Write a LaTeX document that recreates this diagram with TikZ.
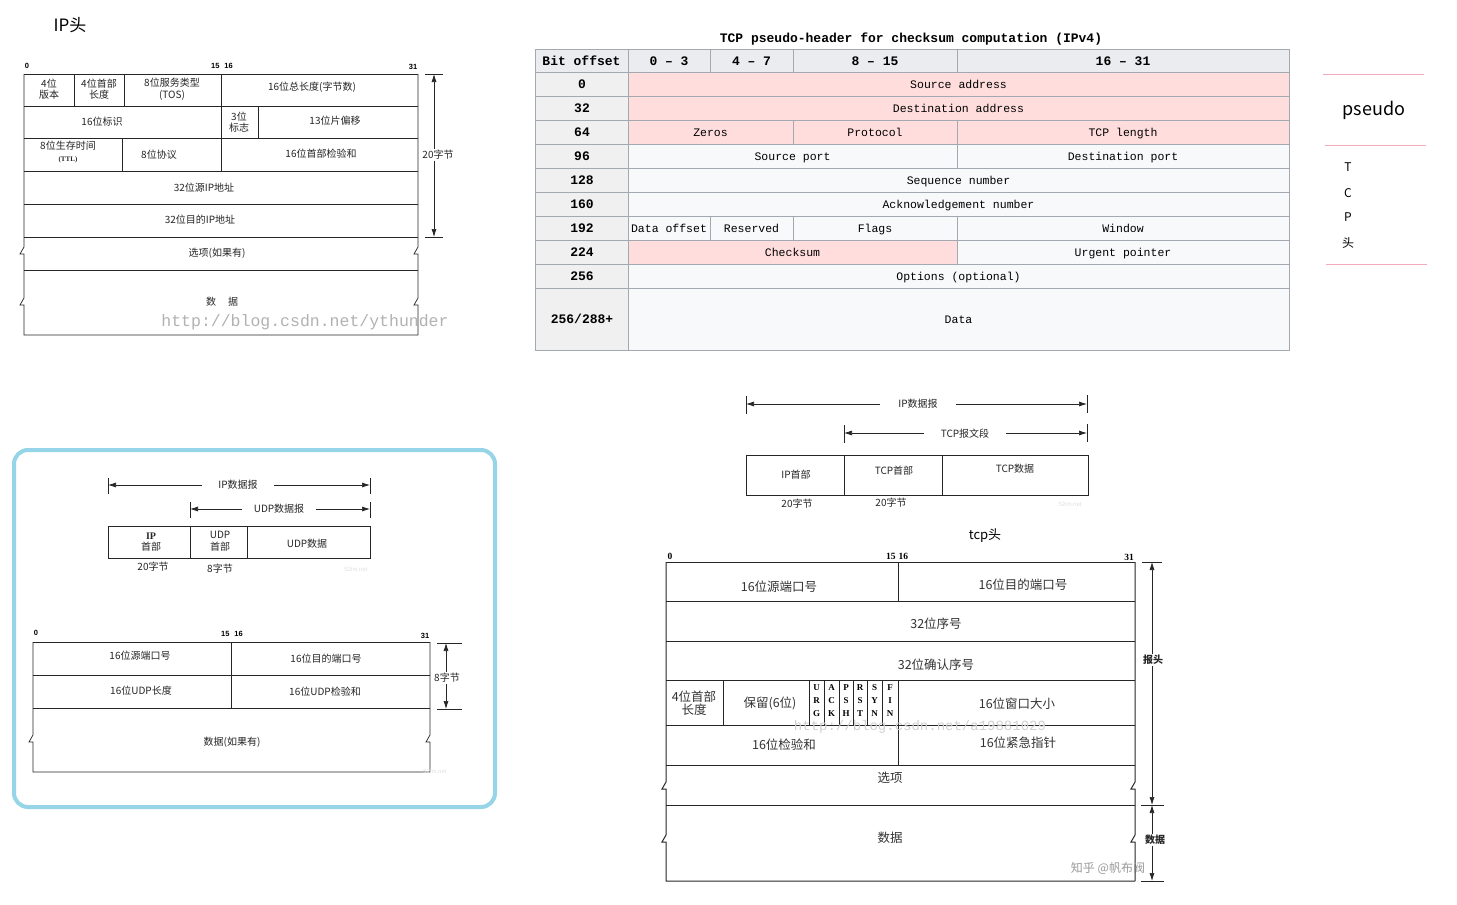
\documentclass[tikz,border=0pt]{standalone}
\usepackage{fontspec}
\setmainfont{Liberation Serif}
\setsansfont{Liberation Sans}
\setmonofont{Liberation Mono}
\newfontfamily\cjk{Noto Sans CJK SC}
\usetikzlibrary{arrows.meta}

\definecolor{tgray}{HTML}{A2A9B1}
\definecolor{thead}{HTML}{EAECF0}
\definecolor{tfirst}{HTML}{F0F0F0}
\definecolor{tpink}{HTML}{FFDDDD}
\definecolor{tcellbg}{HTML}{F8F9FA}
\definecolor{pinkline}{HTML}{F5A9BC}
\definecolor{udpblue}{HTML}{96D5E8}

\tikzset{
    hline/.style={line width=0.7pt, black!85},
    tline/.style={line width=1pt, black!85},
    brk/.style 2 args={insert path={-- (#1,#2-5) -- (#1-4,#2+2) -- (#1,#2+2)}},
    iptxt/.style={font=\cjk\fontsize{10}{11.5}\selectfont, align=center, inner sep=1pt, text=black!85},
    tcptxt/.style={font=\cjk\fontsize{12.5}{13.5}\selectfont, align=center, inner sep=1pt, text=black!80},
    gaplbl/.style={iptxt, inner xsep=16pt},
    bitno/.style={font=\sffamily\bfseries\fontsize{7.5}{8}\selectfont, inner sep=0pt},
    tcpbit/.style={font=\rmfamily\bfseries\fontsize{9.5}{10}\selectfont, inner sep=0pt},
    flagtxt/.style={font=\rmfamily\bfseries\fontsize{9}{13}\selectfont, align=center, inner sep=0pt},
    dim/.style={line width=0.7pt, black!85, -{Latex[length=8pt,width=5pt]}},
    tick/.style={line width=0.7pt, black!85},
    ttl/.style={font=\cjk\fontsize{17}{20}\selectfont},
    tfont/.style={font=\ttfamily\fontsize{11.5}{13}\selectfont, inner sep=0pt, text height=9pt, text depth=1pt},
    tbold/.style={font=\ttfamily\bfseries\fontsize{13}{14}\selectfont, inner sep=0pt, text height=10pt, text depth=1pt},
    cellbox/.style={draw=tgray, line width=0.8pt},
    wmark/.style={font=\ttfamily, text=black!30, inner sep=0pt},
    faint/.style={font=\sffamily\fontsize{6}{7}\selectfont, text=black!12, inner sep=0pt}
}

\begin{document}
\begin{tikzpicture}[x=1pt, y=-1pt]
    \useasboundingbox[fill=white] (0,0) rectangle (1457,905);

    % IP header
    \node[ttl] (ipTitle) at (70,25) {IP头};
    \node[bitno] (ipB0) at (27,66) {0};
    \node[bitno] (ipB15) at (222,66) {15\hspace{5pt}16};
    \node[bitno] (ipB31) at (413,67) {31};
    \draw[hline] (24,74) -- (418,74);
    \draw[hline] (24,74) [brk={24}{252}] [brk={24}{303}] -- (24,335) -- (418,335);
    \draw[hline] (418,74) [brk={418}{252}] [brk={418}{303}] -- (418,335);
    \foreach \y in {106,138,171,204,237,270}
        \draw[hline] (24,\y) -- (418,\y);
    \draw[hline] (74,74) -- (74,106) (124,74) -- (124,106) (221,74) -- (221,171)
        (258,106) -- (258,138) (122,138) -- (122,171);
    \node[iptxt] (ipVer) at (49,89) {4位\\版本};
    \node[iptxt] (ipHl) at (99,89) {4位首部\\长度};
    \node[iptxt] (ipTos) at (172,89) {8位服务类型\\(TOS)};
    \node[iptxt] (ipLen) at (312,87) {16位总长度(字节数)};
    \node[iptxt] (ipId) at (102,122) {16位标识};
    \node[iptxt] (ipFlag) at (239,122) {3位\\标志};
    \node[iptxt] (ipOff) at (335,121) {13位片偏移};
    \node[iptxt] (ipTtl) at (68,152) {8位生存时间\\{\rmfamily\bfseries\fontsize{7}{8}\selectfont (TTL)}};
    \node[iptxt] (ipProto) at (159,155) {8位协议};
    \node[iptxt] (ipSum) at (321,154) {16位首部检验和};
    \node[iptxt] (ipSrc) at (204,188) {32位源IP地址};
    \node[iptxt] (ipDst) at (200,220) {32位目的IP地址};
    \node[iptxt] (ipOpt) at (217,253) {选项(如果有)};
    \node[iptxt] (ipData) at (222,302) {数\hspace{12pt}据};
    \node[iptxt] (ip20) at (438,155) {20字节};
    \coordinate (ipT) at (434,74);
    \coordinate (ipB) at (434,237);
    \draw[tick] (425,74) -- (443,74) (425,237) -- (443,237);
    \draw[dim] (ipT |- ip20.north) -- (ipT);
    \draw[dim] (ipT |- ip20.south) -- (ipB);
    \node[wmark, font=\ttfamily\fontsize{16.5}{18}\selectfont] (ipWm) at (305,322) {http://blog.csdn.net/ythunder};

    % TCP pseudo-header table
    \node[tbold] (phTitle) at (911,38) {TCP pseudo-header for checksum computation (IPv4)};
    \foreach \xa/\xb/\t [count=\i] in {535/628/Bit offset, 628/710/0 – 3, 710/793/4 – 7, 793/957/8 – 15, 957/1289/16 – 31}
    {
        \filldraw[cellbox, fill=thead] (\xa,49) rectangle (\xb,72);
        \node[tbold] (phHead\i) at ({(\xa+\xb)/2},61) {\t};
    }
    \foreach \ya/\yb/\t [count=\i] in {72/96/0, 96/120/32, 120/144/64, 144/168/96, 168/192/128,
        192/216/160, 216/240/192, 240/264/224, 264/288/256}
    {
        \filldraw[cellbox, fill=tfirst] (535,\ya) rectangle (628,\yb);
        \node[tbold] (phOff\i) at (582,{(\ya+\yb)/2}) {\t};
    }
    \filldraw[cellbox, fill=tfirst] (535,288) rectangle (628,350);
    \node[tbold] (phOff10) at (582,319) {256/288+};
    \foreach \xa/\ya/\xb/\yb/\f/\t [count=\i] in {
        628/72/1289/96/tpink/Source address,
        628/96/1289/120/tpink/Destination address,
        628/120/793/144/tpink/Zeros,
        793/120/957/144/tpink/Protocol,
        957/120/1289/144/tpink/TCP length,
        628/144/957/168/tcellbg/Source port,
        957/144/1289/168/tcellbg/Destination port,
        628/168/1289/192/tcellbg/Sequence number,
        628/192/1289/216/tcellbg/Acknowledgement number,
        628/216/710/240/tcellbg/Data offset,
        710/216/793/240/tcellbg/Reserved,
        793/216/957/240/tcellbg/Flags,
        957/216/1289/240/tcellbg/Window,
        628/240/957/264/tpink/Checksum,
        957/240/1289/264/tcellbg/Urgent pointer,
        628/264/1289/288/tcellbg/Options (optional),
        628/288/1289/350/tcellbg/Data}
    {
        \filldraw[cellbox, fill=\f] (\xa,\ya) rectangle (\xb,\yb);
        \node[tfont] (phCell\i) at ({(\xa+\xb)/2},{(\ya+\yb)/2}) {\t};
    }

    % pseudo / TCP note
    \draw[pinkline, line width=0.8pt] (1323,74) -- (1424,74) (1325,145) -- (1426,145) (1326,264) -- (1427,264);
    \node[font=\cjk\fontsize{18}{20}\selectfont] (psd) at (1374,110) {pseudo};
    \foreach \t/\y [count=\i] in {T/167, C/193, P/217, 头/243}
        \node[font=\cjk\fontsize{12}{14}\selectfont] (psd\i) at (1348,\y) {\t};

    % UDP
    \draw[udpblue, line width=4pt, rounded corners=14pt] (14,450) rectangle (495,807);
    \node[gaplbl] (uIp) at (238,485) {IP数据报};
    \node[gaplbl, inner xsep=12pt] (uUdp) at (279,509) {UDP数据报};
    \coordinate (uIpL) at (108,485);
    \coordinate (uIpR) at (370,485);
    \coordinate (uUdpL) at (190,509);
    \coordinate (uUdpR) at (370,509);
    \draw[tick] (108,478) -- (108,494) (370,478) -- (370,494) (190,502) -- (190,518) (370,502) -- (370,518);
    \draw[dim] (uIp.west) -- (uIpL);
    \draw[dim] (uIp.east) -- (uIpR);
    \draw[dim] (uUdp.west) -- (uUdpL);
    \draw[dim] (uUdp.east) -- (uUdpR);
    \draw[hline] (108,526) rectangle (370,558) (190,526) -- (190,558) (247,526) -- (247,558);
    \node[iptxt] (uIpHd) at (151,542) {{\rmfamily\bfseries IP}\\首部};
    \node[iptxt] (uUdpHd) at (220,541) {UDP\\首部};
    \node[iptxt] (uUdpData) at (307,544) {UDP数据};
    \node[iptxt] (u20) at (153,567) {20字节};
    \node[iptxt] (u8) at (220,569) {8字节};
    \node[faint] (uWm1) at (356,569) {52im.net};

    \node[bitno] (uB0) at (36,633) {0};
    \node[bitno] (uB15) at (232,634) {15\hspace{5pt}16};
    \node[bitno] (uB31) at (425,636) {31};
    \draw[hline] (33,642) -- (430,642);
    \draw[hline] (33,642) [brk={33}{740}] -- (33,772) -- (430,772);
    \draw[hline] (430,642) [brk={430}{740}] -- (430,772);
    \draw[hline] (33,675) -- (430,675) (33,708) -- (430,708) (231,642) -- (231,708);
    \node[iptxt] (uSrc) at (140,656) {16位源端口号};
    \node[iptxt] (uDst) at (326,659) {16位目的端口号};
    \node[iptxt] (uLen) at (141,691) {16位UDP长度};
    \node[iptxt] (uSum) at (325,692) {16位UDP检验和};
    \node[iptxt] (uData) at (232,742) {数据(如果有)};
    \node[iptxt] (u8b) at (447,678) {8字节};
    \coordinate (uT) at (446,643);
    \coordinate (uB) at (446,709);
    \draw[tick] (437,643) -- (462,643) (437,709) -- (462,709);
    \draw[dim] (uT |- u8b.north) -- (uT);
    \draw[dim] (uT |- u8b.south) -- (uB);
    \node[faint] (uWm2) at (435,771) {52im.net};

    % TCP segment
    \node[gaplbl, inner xsep=18pt] (sIp) at (918,404) {IP数据报};
    \node[gaplbl, inner xsep=17pt] (sTcp) at (965,434) {TCP报文段};
    \coordinate (sIpL) at (746,404);
    \coordinate (sIpR) at (1087,404);
    \coordinate (sTcpL) at (844,433);
    \coordinate (sTcpR) at (1087,433);
    \draw[tick] (746,396) -- (746,414) (1087,395) -- (1087,413) (844,425) -- (844,443) (1087,424) -- (1087,442);
    \draw[dim] (sIp.west) -- (sIpL);
    \draw[dim] (sIp.east) -- (sIpR);
    \draw[dim] (sTcp.west |- sTcpL) -- (sTcpL);
    \draw[dim] (sTcp.east |- sTcpR) -- (sTcpR);
    \draw[hline] (746,455) rectangle (1088,495) (844,455) -- (844,495) (942,455) -- (942,495);
    \node[iptxt] (sIpHd) at (796,475) {IP首部};
    \node[iptxt] (sTcpHd) at (894,471) {TCP首部};
    \node[iptxt] (sTcpData) at (1015,469) {TCP数据};
    \node[iptxt] (s20a) at (797,504) {20字节};
    \node[iptxt] (s20b) at (891,503) {20字节};
    \node[faint] (sWm) at (1070,504) {52im.net};

    % TCP header
    \node[font=\cjk\fontsize{13}{15}\selectfont] (tTitle) at (985,536) {tcp头};
    \node[tcpbit] (tB0) at (670,556) {0};
    \node[tcpbit] (tB15) at (897,556) {15\hspace{3pt}16};
    \node[tcpbit] (tB31) at (1129,557) {31};
    \draw[tline] (666,562) -- (1135,562);
    \draw[tline] (666,562) [brk={666}{787}] [brk={666}{840}] -- (666,881) -- (1135,881);
    \draw[tline] (1135,562) [brk={1135}{787}] [brk={1135}{840}] -- (1135,881);
    \foreach \y in {601,641,680,725,765,805}
        \draw[tline] (666,\y) -- (1135,\y);
    \draw[tline] (898,562) -- (898,601) (898,680) -- (898,765) (723,680) -- (723,725);
    \foreach \x in {809,824,839,853,867,882}
        \draw[tline] (\x,680) -- (\x,725);
    \foreach \xa/\xb/\t [count=\i] in {809/824/U\\R\\G, 824/839/A\\C\\K, 839/853/P\\S\\H,
        853/867/R\\S\\T, 867/882/S\\Y\\N, 882/898/F\\I\\N}
        \node[flagtxt] (tFlag\i) at ({(\xa+\xb)/2},701) {\t};
    \node[tcptxt] (tSrc) at (779,587) {16位源端口号};
    \node[tcptxt] (tDst) at (1023,585) {16位目的端口号};
    \node[tcptxt] (tSeq) at (936,624) {32位序号};
    \node[tcptxt] (tAck) at (936,665) {32位确认序号};
    \node[tcptxt] (tHl) at (694,703) {4位首部\\长度};
    \node[tcptxt] (tRes) at (770,703) {保留(6位)};
    \node[tcptxt] (tWin) at (1017,704) {16位窗口大小};
    \node[tcptxt] (tSum) at (784,745) {16位检验和};
    \node[tcptxt] (tUrg) at (1018,743) {16位紧急指针};
    \node[tcptxt] (tOpt) at (890,778) {选项};
    \node[tcptxt] (tData) at (890,838) {数据};
    \node[wmark, font=\ttfamily\fontsize{14}{16}\selectfont, text=black!18] (tWm) at (920,727) {http://blog.csdn.net/a19881029};
    \node[iptxt, font=\cjk\bfseries\fontsize{10}{12}\selectfont] (tHdrLbl) at (1153,660) {报头};
    \node[iptxt, font=\cjk\bfseries\fontsize{10}{12}\selectfont] (tDataLbl) at (1155,840) {数据};
    \coordinate (tT) at (1152,562);
    \coordinate (tM) at (1152,805);
    \coordinate (tB) at (1152,881);
    \draw[tick] (1142,562) -- (1162,562) (1141,805) -- (1164,805) (1141,881) -- (1164,881);
    \draw[dim] (tT |- tHdrLbl.north) -- (tT);
    \draw[dim] (tT |- tHdrLbl.south) -- (tM);
    \draw[dim] (tT |- tDataLbl.north) -- (tM);
    \draw[dim] (tT |- tDataLbl.south) -- (tB);
    \node[font=\cjk\fontsize{12}{14}\selectfont, text=black!40] (tZh) at (1108,868) {知乎 @帆布阀};
\end{tikzpicture}
\end{document}
